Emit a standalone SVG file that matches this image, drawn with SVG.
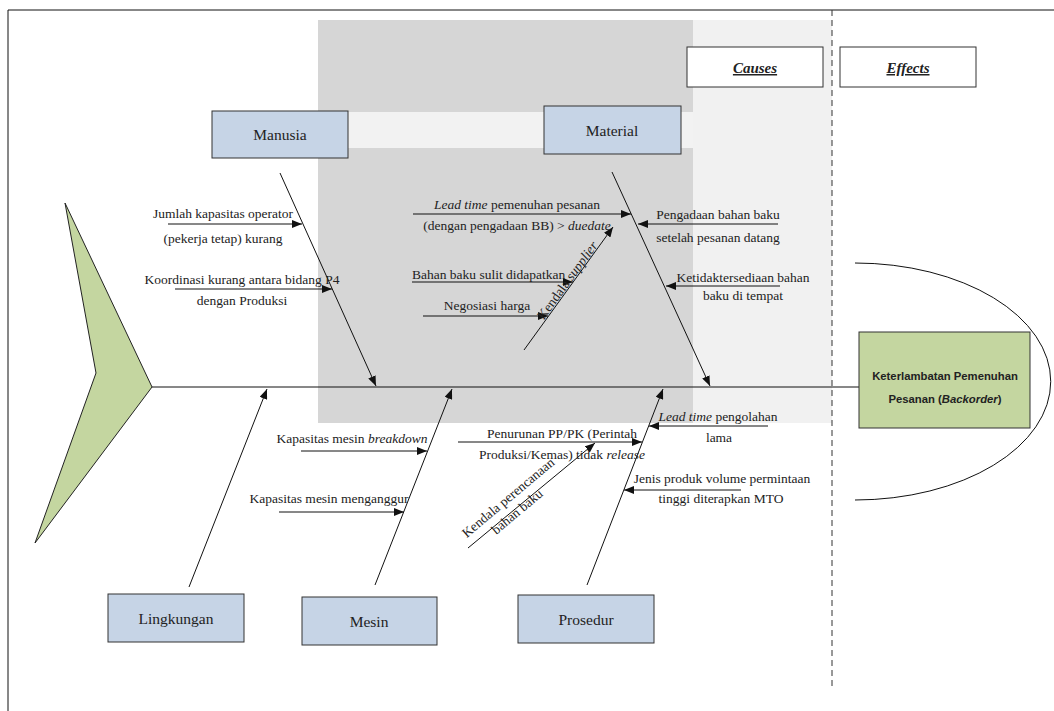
<svg xmlns="http://www.w3.org/2000/svg" width="1054" height="711" viewBox="0 0 1054 711">
<defs>
<marker id="ah" viewBox="0 0 10 8" refX="10" refY="4" markerWidth="10" markerHeight="8" markerUnits="userSpaceOnUse" orient="auto">
<path d="M0,0 L10,4 L0,8 Z" fill="#111"/>
</marker>
<style>
.t{font-family:"Liberation Serif","Times New Roman",serif;font-size:13.5px;fill:#222;}
.c{text-anchor:middle;}
.lbl{font-family:"Liberation Serif","Times New Roman",serif;font-size:15.5px;fill:#222;text-anchor:middle;}
.hd{font-family:"Liberation Serif","Times New Roman",serif;font-size:15px;font-weight:bold;font-style:italic;text-decoration:underline;fill:#222;text-anchor:middle;}
.box{fill:#c6d4e6;stroke:#333;stroke-width:1;}
.hbox{fill:#ffffff;stroke:#333;stroke-width:1;}
.ln{stroke:#111;stroke-width:1;fill:none;}
.ar{stroke:#111;stroke-width:1;fill:none;marker-end:url(#ah);}
.eff{font-family:"Liberation Sans",Arial,sans-serif;font-size:11.3px;font-weight:bold;fill:#222;text-anchor:middle;}
</style>
</defs>
<rect x="0" y="0" width="1054" height="711" fill="#ffffff"/>
<g id="background">
<rect x="318" y="20" width="375" height="403" fill="#d6d6d6"/>
<rect x="318" y="112" width="375" height="36" fill="#f2f2f2"/>
<rect x="693" y="20" width="139" height="403" fill="#f1f1f1"/>
</g>
<g id="frame">
<path class="ln" d="M8,711 L8,10 L1054,10"/>
<line x1="832" y1="10" x2="832" y2="690" stroke="#333" stroke-width="1" stroke-dasharray="6,4"/>
</g>
<g id="tail">
<polygon points="65,203 152,387 35,543 96,373" fill="#c4d6a0" stroke="#222" stroke-width="1"/>
</g>
<g id="connectors">
<line class="ln" x1="152" y1="387" x2="859" y2="387"/>
<path class="ln" d="M855,263 A195,118 0 0 1 855,500"/>
<line class="ar" x1="280" y1="173" x2="376" y2="386"/>
<line class="ar" x1="612" y1="172" x2="710" y2="386"/>
<line class="ar" x1="189" y1="587" x2="267" y2="389"/>
<line class="ar" x1="375" y1="585" x2="452" y2="389"/>
<line class="ar" x1="587" y1="585" x2="663" y2="389"/>
<line class="ar" x1="168" y1="224" x2="302" y2="224"/>
<line class="ar" x1="175" y1="289" x2="332" y2="289"/>
<line class="ar" x1="413" y1="214" x2="631" y2="214"/>
<line class="ar" x1="778" y1="224" x2="638" y2="224"/>
<line class="ar" x1="780" y1="286" x2="666" y2="286"/>
<line class="ar" x1="412" y1="282" x2="573" y2="282"/>
<line class="ar" x1="423" y1="316" x2="548" y2="316"/>
<line class="ar" x1="524" y1="350" x2="613" y2="227"/>
<line class="ar" x1="301" y1="451" x2="427" y2="451"/>
<line class="ar" x1="279" y1="512" x2="404" y2="512"/>
<line class="ar" x1="458" y1="442" x2="642" y2="442"/>
<line class="ar" x1="768" y1="426" x2="649" y2="426"/>
<line class="ar" x1="741" y1="490" x2="624" y2="490"/>
<line class="ar" x1="468" y1="548" x2="595" y2="443"/>
</g>
<g id="causes-header">
<rect class="hbox" x="687" y="47" width="136" height="40"/>
<text class="hd" x="755" y="73">Causes</text>
</g>
<g id="effects-header">
<rect class="hbox" x="840" y="47" width="136" height="40"/>
<text class="hd" x="908" y="73">Effects</text>
</g>
<g id="manusia">
<rect class="box" x="212" y="111" width="136" height="47"/>
<text class="lbl" x="280" y="140">Manusia</text>
</g>
<g id="material">
<rect class="box" x="544" y="106" width="137" height="48"/>
<text class="lbl" x="612" y="136">Material</text>
</g>
<g id="lingkungan">
<rect class="box" x="108" y="594" width="136" height="48"/>
<text class="lbl" x="176" y="624">Lingkungan</text>
</g>
<g id="mesin">
<rect class="box" x="302" y="597" width="135" height="48"/>
<text class="lbl" x="369" y="627">Mesin</text>
</g>
<g id="prosedur">
<rect class="box" x="518" y="595" width="136" height="48"/>
<text class="lbl" x="586" y="625">Prosedur</text>
</g>
<g id="effect">
<rect x="859" y="332" width="171" height="96" fill="#c4d6a0" stroke="#333" stroke-width="1"/>
<text class="eff" x="945" y="380">Keterlambatan Pemenuhan</text>
<text class="eff" x="945" y="403">Pesanan (<tspan font-style="italic">Backorder</tspan>)</text>
</g>
<g id="cause-labels">
<text class="t c" x="223" y="218">Jumlah kapasitas operator</text>
<text class="t c" x="223" y="243">(pekerja tetap) kurang</text>
<text class="t c" x="242" y="284">Koordinasi kurang antara bidang P4</text>
<text class="t c" x="242" y="305">dengan Produksi</text>
<text class="t c" x="517" y="209"><tspan font-style="italic">Lead time</tspan> pemenuhan pesanan</text>
<text class="t c" x="517" y="230">(dengan pengadaan BB) &gt; <tspan font-style="italic">duedate</tspan></text>
<text class="t c" x="718" y="219">Pengadaan bahan baku</text>
<text class="t c" x="718" y="242">setelah pesanan datang</text>
<text class="t c" x="743" y="282">Ketidaktersediaan bahan</text>
<text class="t c" x="743" y="300">baku di tempat</text>
<text class="t" x="412" y="279">Bahan baku sulit didapatkan</text>
<text class="t c" x="487" y="310">Negosiasi harga</text>
<text class="t c" transform="translate(571,283) rotate(-54)" x="0" y="0">Kendala <tspan font-style="italic">supplier</tspan></text>
<text class="t c" x="352" y="443">Kapasitas mesin <tspan font-style="italic">breakdown</tspan></text>
<text class="t c" x="329" y="503">Kapasitas mesin menganggur</text>
<text class="t c" x="562" y="438">Penurunan PP/PK (Perintah</text>
<text class="t c" x="562" y="459">Produksi/Kemas) tidak <tspan font-style="italic">release</tspan></text>
<text class="t c" x="718" y="421"><tspan font-style="italic">Lead time</tspan> pengolahan</text>
<text class="t c" x="719" y="442">lama</text>
<text class="t c" x="722" y="483">Jenis produk volume permintaan</text>
<text class="t c" x="721" y="503">tinggi diterapkan MTO</text>
<text class="t c" transform="translate(511,501) rotate(-40)" x="0" y="0">Kendala perencanaan</text>
<text class="t c" transform="translate(520,515) rotate(-40)" x="0" y="0">bahan baku</text>
</g>
</svg>
